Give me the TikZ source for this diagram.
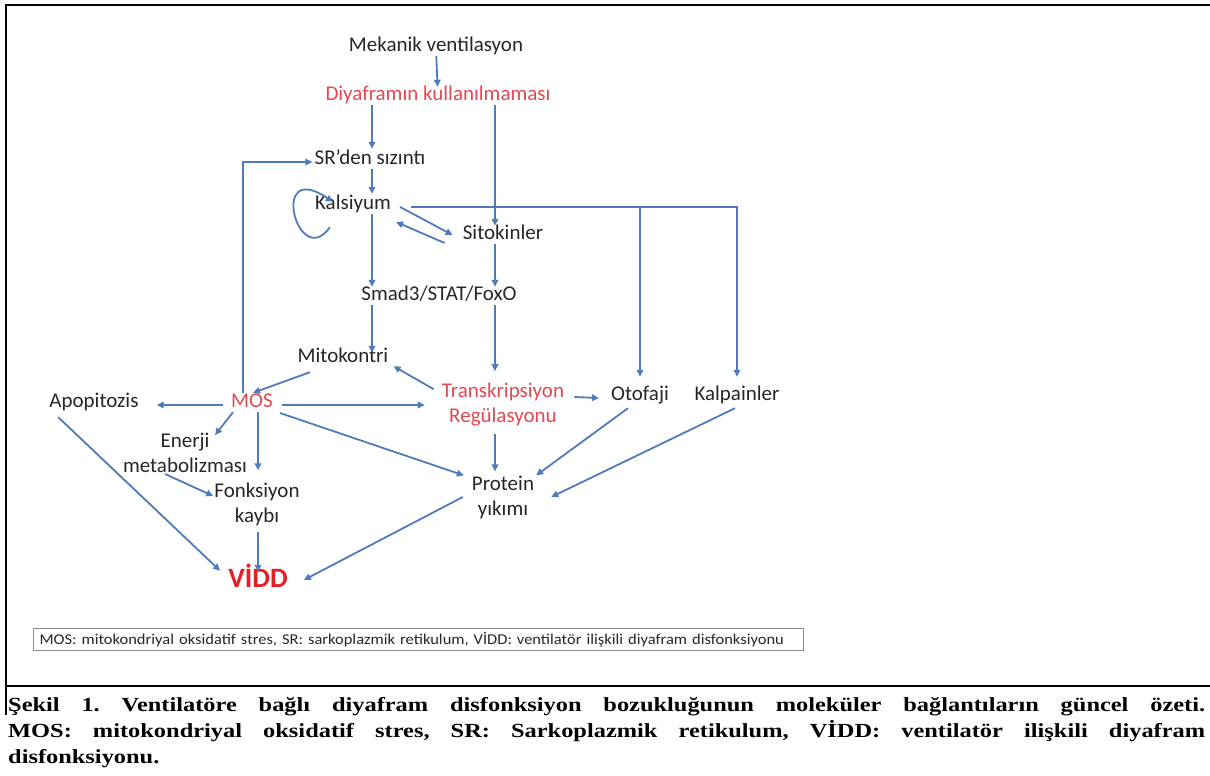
\documentclass[tikz,border=0pt]{standalone}
\usepackage{fontspec}
\setmainfont{Carlito}
\newfontfamily\capfont[FakeStretch=1.22]{Liberation Serif}
\newfontfamily\keyfont[FakeStretch=1.1]{Carlito}
\usetikzlibrary{arrows.meta}

\definecolor{linkblue}{RGB}{79,123,186}
\definecolor{keyred}{RGB}{228,72,80}
\definecolor{viddred}{RGB}{228,30,36}
\definecolor{txt}{RGB}{38,38,38}
\definecolor{keygray}{RGB}{140,140,140}

\tikzset{
    lbl/.style={inner sep=2pt, text height=0.75em, text depth=0.25em, text=txt,
        font=\fontsize{21}{25}\selectfont},
    two/.style={inner sep=2pt, align=center, text=txt, font=\fontsize{21}{25}\selectfont},
    arr/.style={draw=linkblue, line width=1.8pt, -{Triangle[length=7pt,width=6.5pt]},
        shorten >=0pt}
}

\begin{document}
\frenchspacing
\begin{tikzpicture}[x=1pt,y=-1pt]
    \useasboundingbox (0,0) rectangle (1210,776);

    \draw[line width=2pt] (1210,5) -- (6,5) -- (6,715);
    \draw[line width=2pt] (6,686) -- (1210,686);

    \coordinate (c1) at (372,0);
    \coordinate (c2) at (495,0);
    \coordinate (c5) at (258,0);

    \node[lbl] (mv) at (436,49) {Mekanik ventilasyon};
    \node[lbl, text=keyred] (dk) at (438,98) {Diyaframın kullanılmaması};
    \node[lbl] (sr) at (370,162) {SR’den sızıntı};
    \node[lbl] (ka) at (353,207) {Kalsiyum};
    \node[lbl] (si) at (503,237) {Sitokinler};
    \node[lbl] (sm) at (439,298) {Smad3/STAT/FoxO};
    \node[lbl] (mi) at (343,360) {Mitokontri};
    \node[lbl, text=keyred] (mos) at (252,405) {MOS};
    \node[lbl] (ap) at (94,405) {Apopitozis};
    \node[two, text=keyred] (tr) at (503,405) {Transkripsiyon\\Regülasyonu};
    \node[lbl] (ot) at (640,398) {Otofaji};
    \node[lbl] (kp) at (737,398) {Kalpainler};
    \node[two] (en) at (185,453) {Enerji\\metabolizması};
    \node[two] (fk) at (257,504) {Fonksiyon\\kaybı};
    \node[two] (pr) at (503,497) {Protein\\yıkımı};
    \node[lbl, text=viddred, font=\bfseries\fontsize{28}{30}\selectfont] (vidd) at (258,585) {VİDD};

    \draw[arr, shorten >=4pt] (mv) -- (dk);
    \draw[arr, shorten >=6pt] (dk.south -| c1) -- (sr.north -| c1);
    \draw[arr, shorten >=4pt] (dk.south -| c2) -- (si.north -| c2);
    \draw[arr, shorten >=6pt] (sr.south -| c1) -- (ka.north -| c1);
    \draw[arr] ([shift={(17,13)}]ka.south west) .. controls (298,272) and (268,158) .. ([shift={(20,2)}]ka.north west);
    \draw[arr, shorten >=14pt] ([xshift=18]ka.east) -| (kp.north);
    \draw[arr, shorten >=14pt] (ka.east -| ot.north) -- (ot.north);
    \draw[arr] ([xshift=7]ka.east) -- ([shift={(-8,-2)}]si.west);
    \draw[arr] ([shift={(-16,6)}]si.west) -- ([shift={(3,15)}]ka.east);
    \draw[arr, shorten >=4pt] (ka.south -| c1) -- (sm.north -| c1);
    \draw[arr, shorten >=4pt] (si.south -| c2) -- (sm.north -| c2);
    \draw[arr] (sm.south -| c1) -- (mi.north -| c1);
    \draw[arr, shorten >=10pt] (sm.south -| c2) -- (tr.north -| c2);
    \draw[arr] ([shift={(-6,8)}]tr.north west) -- ([shift={(3,-1)}]mi.south east);
    \draw[arr] ([shift={(-33,5)}]mi.south) -- ([shift={(1,-5)}]mos.north);
    \draw[arr] ([shift={(-9,-5)}]mos.north) |- (sr.west);
    \draw[arr] ([xshift=-6]mos.west) -- ([xshift=16]ap.east);
    \draw[arr] ([xshift=7]mos.east) -- ([xshift=-15]tr.west);
    \draw[arr] ([xshift=4]mos.south west) -- ([shift={(30,4)}]en.north);
    \draw[arr, shorten >=10pt] (mos.south -| c5) -- (fk.north -| c5);
    \draw[arr] ([shift={(5,8)}]mos.east) -- ([shift={(-6,2)}]pr.north west);
    \draw[arr] ([shift={(-20,-1)}]en.south) -- ([shift={(1,-8)}]fk.west);
    \draw[arr] ([shift={(8,-8)}]tr.east) -- ([xshift=-10]ot.west);
    \draw[arr, shorten >=2pt, shorten <=5pt] (tr.south -| c2) -- (pr.north -| c2);
    \draw[arr] ([shift={(-12,3)}]ot.south) -- ([shift={(0,2)}]pr.north east);
    \draw[arr] ([shift={(-2,3)}]kp.south) -- ([xshift=15]pr.east);
    \draw[arr, shorten >=6pt, shorten <=4pt] (fk.south -| c5) -- (vidd.north -| c5);
    \draw[arr] ([shift={(11,5)}]ap.south west) -- ([shift={(-6,-7)}]vidd.north west);
    \draw[arr] ([xshift=-7]pr.west) -- ([shift={(14,-5)}]vidd.east);

    \node[draw=keygray, line width=1.2pt, anchor=north west, text width=758, minimum height=22,
        inner xsep=6pt, inner ysep=2pt, align=left, text=txt, font=\keyfont\fontsize{15}{17}\selectfont]
        (key) at (33,628) {MOS: mitokondriyal oksidatif stres, SR: sarkoplazmik retikulum, VİDD: ventilatör ilişkili diyafram disfonksiyonu};

    \node[anchor=north west, inner sep=0pt, text width=1197, align=justify, text=black,
        font=\capfont\bfseries\fontsize{20}{26}\selectfont] (cap) at (8,697)
        {Şekil 1. Ventilatöre bağlı diyafram disfonksiyon bozukluğunun moleküler bağlantıların güncel özeti.\linebreak
        MOS: mitokondriyal oksidatif stres, SR: Sarkoplazmik retikulum, VİDD: ventilatör ilişkili diyafram\linebreak
        disfonksiyonu.};
\end{tikzpicture}
\end{document}
